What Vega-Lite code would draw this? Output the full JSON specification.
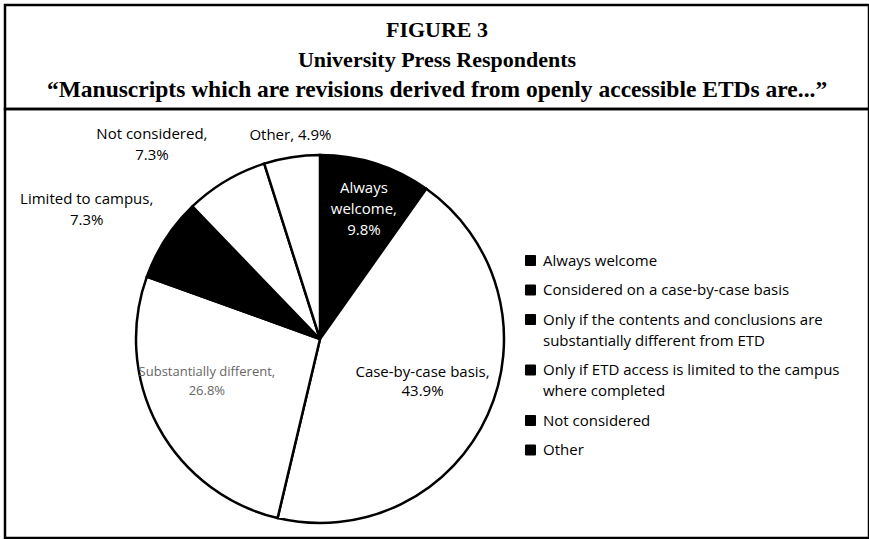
{
  "$schema": "https://vega.github.io/schema/vega-lite/v6.json",
  "background": "white",
  "padding": {"left": 3, "top": 3, "right": 2, "bottom": 3},
  "datasets": {
    "slices": [
      {"category": "Always welcome", "pct": 9.8, "label": "Always\nwelcome,\n9.8%"},
      {"category": "Considered on a case-by-case basis", "pct": 43.9, "label": "Case-by-case basis,\n43.9%"},
      {"category": "Only if the contents and conclusions are substantially different from ETD", "pct": 26.8, "label": "Substantially different,\n26.8%"},
      {"category": "Only if ETD  access is limited to the campus where completed", "pct": 7.3, "label": "Limited to campus,\n7.3%"},
      {"category": "Not considered", "pct": 7.3, "label": "Not considered,\n7.3%"},
      {"category": "Other", "pct": 4.9, "label": "Other, 4.9%"}
    ]
  },
  "spacing": 0,
  "bounds": "flush",
  "resolve": {"scale": {"stroke": "independent", "fill": "independent"}, "legend": {"stroke": "independent", "fill": "independent"}},
  "vconcat": [
    {
      "width": 864,
      "height": 104,
      "view": {"stroke": "black", "strokeWidth": 2.5},
      "data": {"values": [
        {"line": "FIGURE 3"},
        {"line": "University Press Respondents"},
        {"line": "“Manuscripts which are revisions derived from openly accessible ETDs are...”"}
      ]},
      "mark": {"type": "text", "font": "Liberation Serif", "fontWeight": "bold", "color": "black", "dy": 3},
      "encoding": {
        "y": {"field": "line", "type": "nominal", "sort": null, "axis": null, "scale": {"type": "point", "padding": 0.733}},
        "text": {"field": "line"},
        "size": {"condition": {"test": "indexof(datum.line, 'Manuscripts') >= 0", "value": 23.5}, "value": 22}
      }
    },
    {
      "width": 864,
      "height": 429,
      "view": {"stroke": "black", "strokeWidth": 2.5},
      "data": {"name": "slices"},
      "transform": [{"window": [{"op": "row_number", "as": "idx"}]}],
      "encoding": {
        "theta": {"field": "pct", "type": "quantitative", "stack": true},
        "order": {"field": "idx", "type": "quantitative"},
        "detail": {"field": "category"}
      },
      "layer": [
        {
          "mark": {"type": "arc", "outerRadius": 184, "xOffset": -117, "yOffset": 15.5, "strokeWidth": 2.5},
          "encoding": {
            "fill": {
              "field": "category", "type": "nominal",
              "scale": {
                "domain": ["Other", "Not considered", "Only if ETD  access is limited to the campus where completed", "Only if the contents and conclusions are substantially different from ETD", "Considered on a case-by-case basis", "Always welcome"],
                "range": ["#ffffff", "#ffffff", "#000000", "#ffffff", "#ffffff", "#000000"]
              },
              "legend": null
            },
            "stroke": {
              "field": "category", "type": "nominal",
              "scale": {
                "domain": ["Always welcome", "Considered on a case-by-case basis", "Only if the contents and conclusions are substantially different from ETD", "Only if ETD  access is limited to the campus where completed", "Not considered", "Other"],
                "range": ["#000000", "#000000", "#000000", "#000000", "#000000", "#000000"]
              },
              "legend": {
                "title": null,
                "orient": "none",
                "legendX": 518,
                "legendY": 144,
                "padding": 0,
                "symbolType": "square",
                "symbolSize": 100,
                "symbolFillColor": "#000000",
                "symbolStrokeWidth": 1,
                "labelFont": "Open Sans",
                "labelFontSize": 15,
                "labelColor": "black",
                "labelOffset": 5,
                "labelLimit": 400,
                "rowPadding": 13.5,
                "labelExpr": "datum.label == 'Only if the contents and conclusions are substantially different from ETD' ? ['Only if the contents and conclusions are', 'substantially different from ETD'] : datum.label == 'Only if ETD  access is limited to the campus where completed' ? ['Only if ETD  access is limited to the campus', 'where completed'] : datum.label",
                "encode": {
                  "labels": {"enter": {"lineHeight": {"value": 21}}, "update": {"lineHeight": {"value": 21}}},
                  "symbols": {"update": {"fill": {"value": "#000000"}}}
                }
              }
            }
          }
        },
        {
          "mark": {"type": "text", "radius": 158, "xOffset": -117, "yOffset": 15.5, "dx": -4, "font": "Open Sans", "fontSize": 15, "color": "white", "lineBreak": "\n", "lineHeight": 21},
          "encoding": {"text": {"condition": {"test": "datum.category === 'Always welcome'", "field": "label"}, "value": ""}}
        },
        {
          "mark": {"type": "text", "radius": 107, "xOffset": -117, "yOffset": 15.5, "dx": 5, "dy": -11, "font": "Open Sans", "fontSize": 15, "color": "black", "lineBreak": "\n", "lineHeight": 19},
          "encoding": {"text": {"condition": {"test": "datum.category === 'Considered on a case-by-case basis'", "field": "label"}, "value": ""}}
        },
        {
          "mark": {"type": "text", "radius": 115, "xOffset": -117, "yOffset": 15.5, "dx": -12, "dy": -22, "font": "Open Sans", "fontSize": 13, "color": "#666666", "lineBreak": "\n", "lineHeight": 19},
          "encoding": {"text": {"condition": {"test": "datum.category === 'Only if the contents and conclusions are substantially different from ETD'", "field": "label"}, "value": ""}}
        },
        {
          "mark": {"type": "text", "radius": 272, "xOffset": -117, "yOffset": 15.5, "dx": -5, "dy": 8, "font": "Open Sans", "fontSize": 15, "color": "black", "lineBreak": "\n", "lineHeight": 21},
          "encoding": {"text": {"condition": {"test": "datum.category === 'Only if ETD  access is limited to the campus where completed'", "field": "label"}, "value": ""}}
        },
        {
          "mark": {"type": "text", "radius": 262, "xOffset": -117, "yOffset": 15.5, "dx": -34, "dy": 20, "font": "Open Sans", "fontSize": 15, "color": "black", "lineBreak": "\n", "lineHeight": 21},
          "encoding": {"text": {"condition": {"test": "datum.category === 'Not considered'", "field": "label"}, "value": ""}}
        },
        {
          "mark": {"type": "text", "radius": 206, "xOffset": -117, "yOffset": 15.5, "dx": 2, "font": "Open Sans", "fontSize": 15, "color": "black", "lineBreak": "\n", "lineHeight": 21},
          "encoding": {"text": {"condition": {"test": "datum.category === 'Other'", "field": "label"}, "value": ""}}
        }
      ]
    }
  ],
  "config": {
    "view": {"stroke": "black", "strokeWidth": 2.5}
  }
}
